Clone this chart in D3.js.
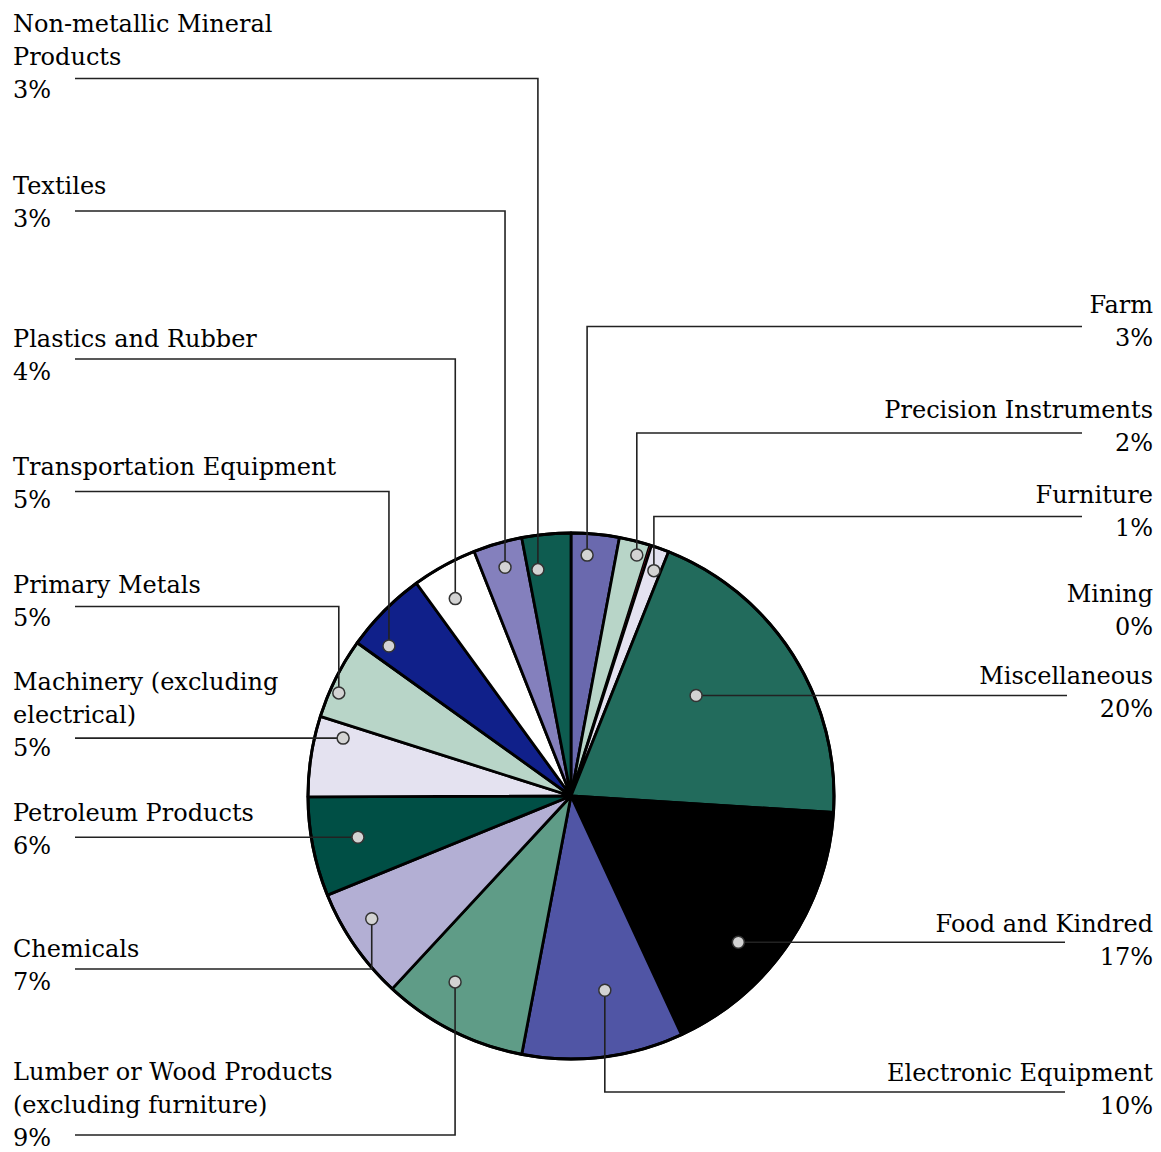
<!DOCTYPE html>
<html>
<head>
<meta charset="utf-8">
<script src="https://cdn.jsdelivr.net/npm/d3@7"></script>
<style>
  html, body { margin: 0; padding: 0; background: #fff; }
  svg { display: block; }
</style>
</head>
<body>
<svg id="chart" width="1161" height="1152"></svg>
<script>
// ---- data ----
const categories = [
  "Farm", "Precision Instruments", "Mining", "Furniture", "Miscellaneous",
  "Food and Kindred", "Electronic Equipment", "Lumber or Wood Products (excluding furniture)",
  "Chemicals", "Petroleum Products", "Machinery (excluding electrical)", "Primary Metals",
  "Transportation Equipment", "Plastics and Rubber", "Textiles", "Non-metallic Mineral Products"
];
const values = [2.95, 1.9, 0.1, 1.1, 19.95, 17.1, 9.9, 8.9, 6.95, 6.1, 4.95, 5.0, 5.1, 4.0, 3.0, 3.0];
const labelLines = [
  ["Farm"], ["Precision Instruments"], ["Mining"], ["Furniture"], ["Miscellaneous"],
  ["Food and Kindred"], ["Electronic Equipment"], ["Lumber or Wood Products", "(excluding furniture)"],
  ["Chemicals"], ["Petroleum Products"], ["Machinery (excluding", "electrical)"], ["Primary Metals"],
  ["Transportation Equipment"], ["Plastics and Rubber"], ["Textiles"], ["Non-metallic Mineral", "Products"]
];

// ---- styles ----
const colors = [
  "#6a69ae", "#b8d5c8", "#c0102a", "#e4e2f0", "#226b5c",
  "#000000", "#5055a5", "#5f9c87", "#b3afd4", "#004f45",
  "#e4e2f0", "#b8d5c8", "#10208a", "#ffffff", "#8480bd", "#0e5c50"
];

// ---- layout (label placement, leader routing, anchor dot inside slice) ----
const layout = [
  {side: "R", base: 313, ly: 326.5, t: 0.36, rf: 0.918, ex: 1082},
  {side: "R", base: 418, ly: 433,   t: 0.68, rf: 0.95,  ex: 1082},
  {side: "R", base: 602, ly: "none"},
  {side: "R", base: 503, ly: 516.5, t: 0.60, rf: 0.913, ex: 1082},
  {side: "R", base: 684, ly: null,  t: 0.41, rf: 0.61,  ex: 1067},
  {side: "R", base: 932, ly: null,  t: 0.61, rf: 0.845, ex: 1065},
  {side: "R", base: 1081, ly: 1092, t: 0.42, rf: 0.75,  ex: 1065},
  {side: "L", base: 1080, ly: 1135, t: 0.66, rf: 0.833, ex: 75},
  {side: "L", base: 957, ly: 969,   t: 0.62, rf: 0.89,  ex: 75},
  {side: "L", base: 821, ly: null,  t: 0.51, rf: 0.825, ex: 75},
  {side: "L", base: 690, ly: null,  t: 0.81, rf: 0.894, ex: 75},
  {side: "L", base: 593, ly: 606.5, t: 0.35, rf: 0.966, ex: 75},
  {side: "L", base: 475, ly: 491.5, t: 0.21, rf: 0.897, ex: 75},
  {side: "L", base: 347, ly: 359,   t: 0.39, rf: 0.87,  ex: 75},
  {side: "L", base: 194, ly: 211,   t: 0.51, rf: 0.905, ex: 75},
  {side: "L", base: 32,  ly: 78.5,  t: 0.23, rf: 0.87,  ex: 75}
];

const cx = 571, cy = 796, R = 263;
const lineH = 33;
const fontFamily = "'DejaVu Serif', serif";
const fontSize = 24;

const svg = d3.select("#chart");
const g = svg.append("g").attr("transform", `translate(${cx},${cy})`);

const data = categories.map((c, i) => ({name: c, value: values[i], i}));
const total = d3.sum(values);
const pie = d3.pie().sort(null).value(d => d.value);
const arcs = pie(data);
const arc = d3.arc().innerRadius(0).outerRadius(R);

g.selectAll("path.slice")
  .data(arcs)
  .join("path")
  .attr("class", "slice")
  .attr("d", arc)
  .attr("fill", d => colors[d.data.i])
  .attr("stroke", d => d.data.i === 2 ? "none" : "#000")
  .attr("stroke-width", 2.8)
  .attr("stroke-linejoin", "round");

g.append("circle").attr("r", R).attr("fill", "none").attr("stroke", "#000").attr("stroke-width", 3);

const anchors = arcs.map(a => {
  const L = layout[a.data.i];
  if (L.ly === "none") return null;
  const ang = a.startAngle + L.t * (a.endAngle - a.startAngle);
  const r = R * L.rf;
  return {x: cx + r * Math.sin(ang), y: cy - r * Math.cos(ang), L, i: a.data.i};
}).filter(d => d);

const overlay = svg.append("g");
overlay.selectAll("path.leader")
  .data(anchors)
  .join("path")
  .attr("class", "leader")
  .attr("d", d => d.L.ly === null
      ? `M${d.x},${d.y}H${d.L.ex}`
      : `M${d.x},${d.y}V${d.L.ly}H${d.L.ex}`)
  .attr("fill", "none")
  .attr("stroke", "#222")
  .attr("stroke-width", 1.6);

overlay.selectAll("circle.dot")
  .data(anchors)
  .join("circle")
  .attr("class", "dot")
  .attr("cx", d => d.x)
  .attr("cy", d => d.y)
  .attr("r", 6)
  .attr("fill", "#d3d3d3")
  .attr("stroke", "#333")
  .attr("stroke-width", 1.5);

const fmt = v => Math.round(v / total * 100) + "%";
const labels = svg.append("g")
  .attr("font-family", fontFamily)
  .attr("font-size", fontSize)
  .attr("fill", "#000");

data.forEach(d => {
  const L = layout[d.i];
  const lines = labelLines[d.i].concat([fmt(d.value)]);
  const x = L.side === "L" ? 13 : 1153;
  const t = labels.append("text")
    .attr("text-anchor", L.side === "L" ? "start" : "end");
  lines.forEach((ln, k) => {
    t.append("tspan").attr("x", x).attr("y", L.base + k * lineH).text(ln);
  });
});
</script>
</body>
</html>
